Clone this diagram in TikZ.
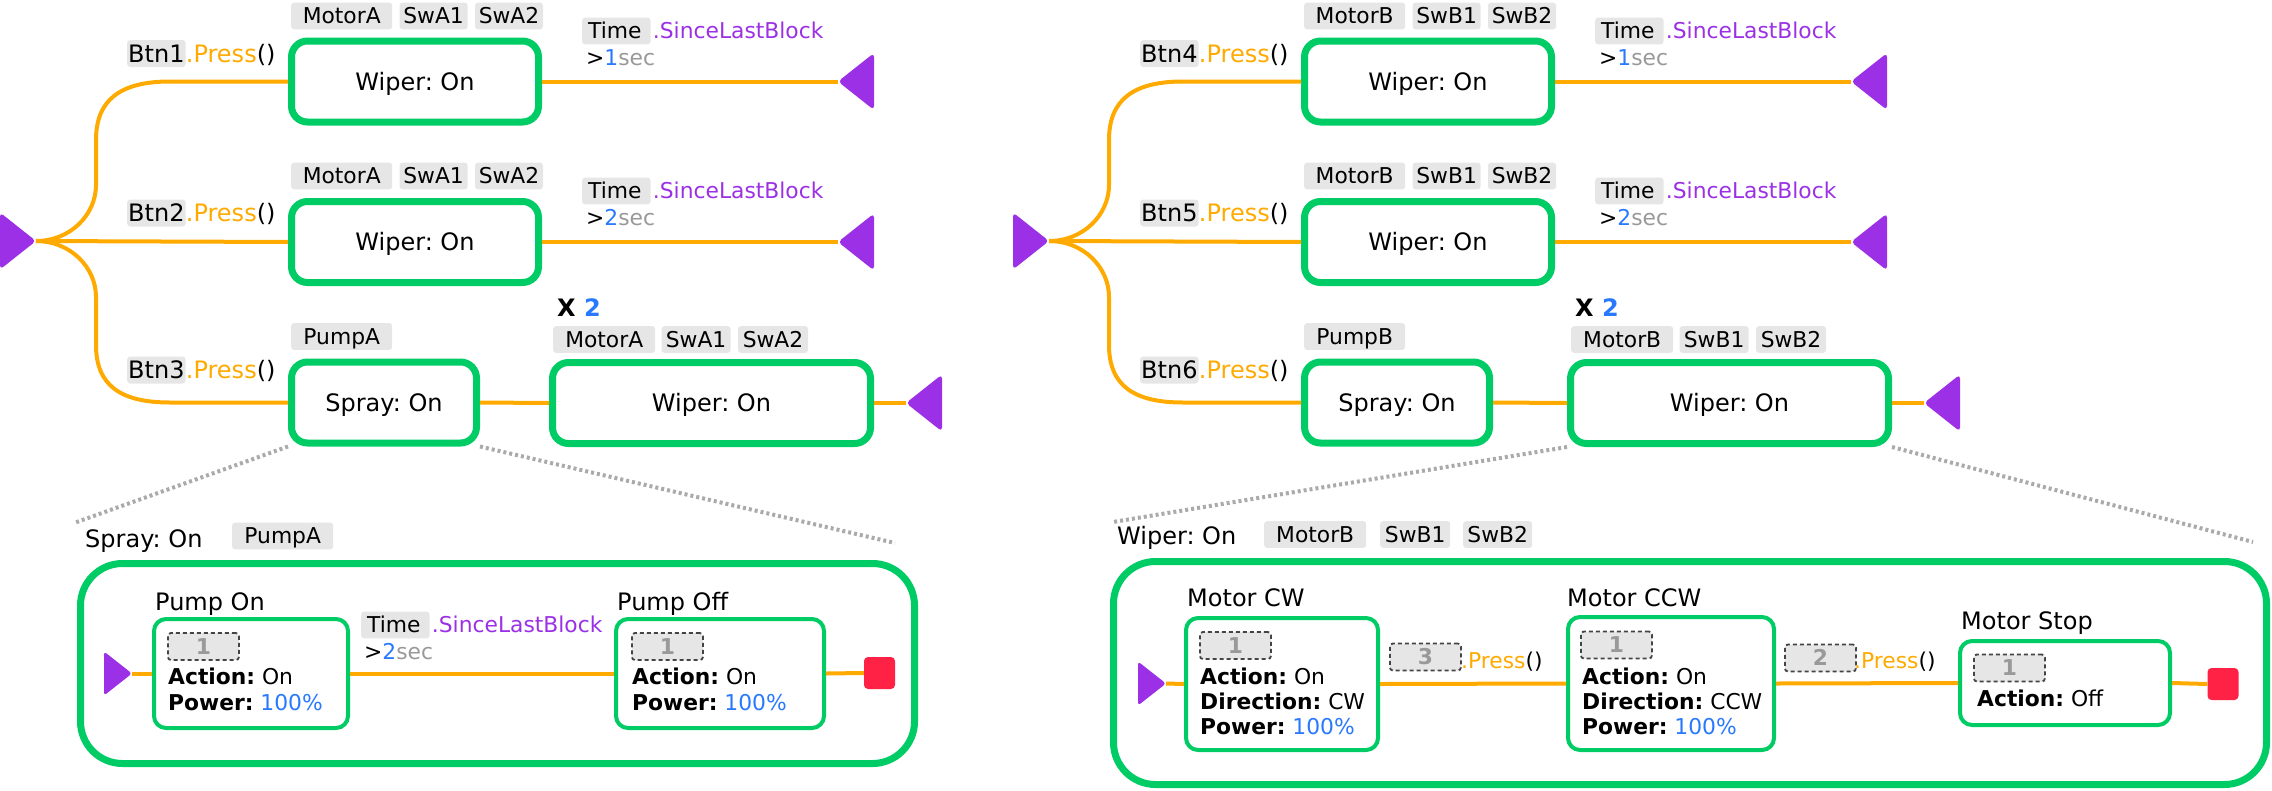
\documentclass[tikz,border=0pt]{standalone}
\usepackage{fontspec}
\setmainfont{DejaVu Sans}
\usetikzlibrary{calc}
\frenchspacing
\definecolor{gr}{HTML}{00CC66}
\definecolor{orn}{HTML}{FFAA00}
\definecolor{pur}{HTML}{9B30E6}
\definecolor{blu}{HTML}{2979FF}
\definecolor{secg}{HTML}{999999}
\definecolor{tagf}{HTML}{E6E6E6}
\definecolor{dotg}{HTML}{AAAAAA}
\definecolor{redsq}{HTML}{FF2244}
\definecolor{dashb}{HTML}{444444}
\newcommand\fm{\fontsize{24}{29}\selectfont\frenchspacing}
\newcommand\fs{\fontsize{21.8}{26}\selectfont\frenchspacing}
\newcommand\timetxt{\null\hspace{6pt}Time\hspace{9pt}\null}
\tikzset{
 bigbox/.style={draw=gr, line width=7pt, rounded corners=16pt, fill=white, font=\fm, text height=17.5pt, text depth=0pt, inner sep=0pt, minimum height=81pt},
 tagn/.style={fill=tagf, rounded corners=3pt, font=\fs, text height=15.9pt, text depth=0pt, inner ysep=5.5pt, inner xsep=0pt},
 btag/.style={fill=tagf, rounded corners=3pt, font=\fm, text height=17.5pt, text depth=0pt, inner ysep=4.75pt, inner xsep=1pt},
 wire/.style={draw=orn, line width=4pt},
 dotl/.style={draw=dotg, line width=4pt, dash pattern=on 3pt off 3pt},
 txt/.style={inner sep=0pt, anchor=base west},
 ibox/.style={draw=gr, line width=4pt, rounded corners=12pt, fill=white, inner sep=0pt},
 expbox/.style={draw=gr, line width=7pt, rounded corners=42pt, inner sep=0pt},
 badge/.style={fill=tagf, draw=dashb, line width=1.8pt, dash pattern=on 4pt off 3pt, rounded corners=3pt, minimum width=71pt, minimum height=27pt, inner sep=0pt, font=\fs\bfseries, text=secg, text height=15.9pt, text depth=0pt},
 stopsq/.style={fill=redsq, rounded corners=4pt, minimum width=31pt, minimum height=32pt, inner sep=0pt},
}
\newcommand\tril[1]{\fill[pur, rounded corners=4pt] (#1) -- ++(36,-28.5) -- ++(0,57) -- cycle;}
\newcommand\trir[1]{\fill[pur, rounded corners=4pt] (#1) -- ++(-36,-28.5) -- ++(0,57) -- cycle;}
\newcommand\trirs[1]{\fill[pur, rounded corners=3pt] (#1) -- ++(-28,-22) -- ++(0,44) -- cycle;}
% #1 motor, #2 switch letter, #3-#5 buttons, #6 pump, #7 extra shift of last wiper
\newcommand\grp[7]{%
 \coordinate (s) at (36,241);
 \node[bigbox, minimum width=247pt] (w1) at (415,81.5) {Wiper: On};
 \node[bigbox, minimum width=247pt] (w2) at (415,242) {Wiper: On};
 \node[bigbox, minimum width=185pt] (sp) at (384,402.5) {Spray: On};
 \node[bigbox, minimum width=318pt] (w3) at (711.5+#7,403) {Wiper: On};
 % tags
 \node[tagn, minimum width=101pt, anchor=west] (m1) at (291,16) {#1};
 \node[tagn, minimum width=68pt, anchor=west] (a1) at ($(m1.east)+(7,0)$) {Sw#21};
 \node[tagn, minimum width=68pt, anchor=west] (b1) at ($(a1.east)+(7,0)$) {Sw#22};
 \node[tagn, minimum width=101pt, anchor=west] (m2) at (291,176) {#1};
 \node[tagn, minimum width=68pt, anchor=west] (a2) at ($(m2.east)+(7,0)$) {Sw#21};
 \node[tagn, minimum width=68pt, anchor=west] (b2) at ($(a2.east)+(7,0)$) {Sw#22};
 \node[tagn, minimum width=101pt, anchor=west] (pm) at (291,336.5) {#6};
 \node[tagn, minimum width=102pt, anchor=west] (m3) at (553+#7,339.5) {#1};
 \node[tagn, minimum width=69pt, anchor=west] (a3) at ($(m3.east)+(6,0)$) {Sw#21};
 \node[tagn, minimum width=70pt, anchor=west] (b3) at ($(a3.east)+(7,0)$) {Sw#22};
 \node[txt, font=\fm\bfseries] (x2) at (557+#7,316) {X \textcolor{blu}{2}};
 % button labels
 \node[btag, anchor=west] (bt1) at (127,53.5) {#3};
 \node[txt, font=\fm] (pr1) at (bt1.base east) {\textcolor{orn}{.Press}()};
 \node[btag, anchor=west] (bt2) at (127,213) {#4};
 \node[txt, font=\fm] (pr2) at (bt2.base east) {\textcolor{orn}{.Press}()};
 \node[btag, anchor=west] (bt3) at (127,370) {#5};
 \node[txt, font=\fm] (pr3) at (bt3.base east) {\textcolor{orn}{.Press}()};
 % time conditions
 \node[tagn, anchor=west] (tm1) at (582,31) {\timetxt};
 \node[txt, font=\fs, text=pur] (sl1) at ($(tm1.base east)+(2,0)$) {.SinceLastBlock};
 \node[txt, font=\fs] (sc1) at (586,65) {>\textcolor{blu}{1}\textcolor{secg}{sec}};
 \node[tagn, anchor=west] (tm2) at (582,191) {\timetxt};
 \node[txt, font=\fs, text=pur] (sl2) at ($(tm2.base east)+(2,0)$) {.SinceLastBlock};
 \node[txt, font=\fs] (sc2) at (586,225.5) {>\textcolor{blu}{2}\textcolor{secg}{sec}};
 % ends
 \coordinate (e1) at (838,81.5);
 \coordinate (e2) at (838,242);
 \coordinate (e3) at (906+#7,403);
 % wires
 \draw[wire] (s) .. controls (70,241) and (96,215) .. (96,185) -- (96,140) .. controls (96,100) and (120,81.5) .. (170,81.5) -- (w1.west);
 \draw[wire] (s) -- (w2.west);
 \draw[wire] (s) .. controls (70,241) and (96,267) .. (96,297) -- (96,345) .. controls (96,385) and (120,402.5) .. (170,402.5) -- (sp.west);
 \draw[wire] (w1.east) -- (e1);
 \draw[wire] (w2.east) -- (e2);
 \draw[wire] (sp.east) -- (w3.west);
 \draw[wire] (w3.east) -- (e3);
 \trir{s}
 \tril{e1}
 \tril{e2}
 \tril{e3}
}
\begin{document}
\begin{tikzpicture}[x=1pt,y=-1pt]
\useasboundingbox (0,0) rectangle (2272,790);
\begin{scope}[name prefix=L-]
 \grp{MotorA}{A}{Btn1}{Btn2}{Btn3}{PumpA}{0}
\end{scope}
\begin{scope}[xshift=1013pt, name prefix=R-]
 \grp{MotorB}{B}{Btn4}{Btn5}{Btn6}{PumpB}{5}
\end{scope}
% zoom lines
\coordinate (dl1) at (74,523);
\coordinate (dl2) at (895,543);
\coordinate (dr1) at (1113,522);
\coordinate (dr2) at (2253,542);
\draw[dotl] (L-sp.south west) -- (dl1);
\draw[dotl] (L-sp.south east) -- (dl2);
\draw[dotl] (R-w3.south west) -- (dr1);
\draw[dotl] (R-w3.south east) -- (dr2);
% ---- left expansion: Spray On
\node[expbox, minimum width=834pt, minimum height=200pt] (xl) at (497.5,663.5) {};
\node[txt, font=\fm] (xlh) at (85,547) {Spray: On};
\node[tagn, minimum width=101pt, anchor=west] (xlt) at (232,536) {PumpA};
\coordinate (xls) at (132,673.5);
\node[ibox, minimum width=194pt, minimum height=109pt] (pon) at (251,673.5) {};
\node[txt, font=\fm] (ponl) at (155,610) {Pump On};
\node[badge, anchor=west] (ponb) at (167,646.5) {1};
\node[txt, font=\fs] (pona) at (168,684) {\textbf{Action:} On};
\node[txt, font=\fs] (ponp) at (168,710) {\textbf{Power:} \textcolor{blu}{100\%}};
\node[ibox, minimum width=208pt, minimum height=109pt] (poff) at (720,673.5) {};
\node[txt, font=\fm] (poffl) at (617,610) {Pump Off};
\node[badge, anchor=west] (poffb) at (631,646.5) {1};
\node[txt, font=\fs] (poffa) at (632,684) {\textbf{Action:} On};
\node[txt, font=\fs] (poffp) at (632,710) {\textbf{Power:} \textcolor{blu}{100\%}};
\node[stopsq] (xle) at (879.5,673) {};
\node[tagn, anchor=west] (xltm) at (361,625) {\timetxt};
\node[txt, font=\fs, text=pur] (xlsl) at ($(xltm.base east)+(2,0)$) {.SinceLastBlock};
\node[txt, font=\fs] (xlsc) at (364,659) {>\textcolor{blu}{2}\textcolor{secg}{sec}};
\draw[wire] (xls) -- (pon.west);
\draw[wire] (pon.east) -- (poff.west);
\draw[wire] (poff.east) -- (xle.west);
\trirs{xls}
% ---- right expansion: Wiper On
\node[expbox, minimum width=1153pt, minimum height=223pt] (xr) at (1690,673) {};
\node[txt, font=\fm] (xrh) at (1117,544) {Wiper: On};
\node[tagn, minimum width=102pt, anchor=west] (xrm) at (1264,534.5) {MotorB};
\node[tagn, minimum width=70pt, anchor=west] (xra) at (1380,534.5) {SwB1};
\node[tagn, minimum width=69pt, anchor=west] (xrb) at (1463,534.5) {SwB2};
\coordinate (xrs) at (1166,683.5);
\node[ibox, minimum width=192pt, minimum height=132pt] (cw) at (1282,684) {};
\node[txt, font=\fm] (cwl) at (1187,606) {Motor CW};
\node[badge, anchor=west] (cwb) at (1199,645.5) {1};
\node[txt, font=\fs] (cwa) at (1200,684) {\textbf{Action:} On};
\node[txt, font=\fs] (cwd) at (1200,709) {\textbf{Direction:} CW};
\node[txt, font=\fs] (cwp) at (1200,734) {\textbf{Power:} \textcolor{blu}{100\%}};
\node[badge, anchor=west] (t3) at (1389,657) {3};
\node[txt, font=\fs] (t3p) at (1461,668) {\textcolor{orn}{.Press}()};
\node[ibox, minimum width=206pt, minimum height=133pt] (ccw) at (1671,683.5) {};
\node[txt, font=\fm] (ccwl) at (1567,606) {Motor CCW};
\node[badge, anchor=west] (ccwb) at (1580,645) {1};
\node[txt, font=\fs] (ccwa) at (1582,684) {\textbf{Action:} On};
\node[txt, font=\fs] (ccwd) at (1582,709) {\textbf{Direction:} CCW};
\node[txt, font=\fs] (ccwp) at (1582,734) {\textbf{Power:} \textcolor{blu}{100\%}};
\node[badge, anchor=west] (t2) at (1784,658) {2};
\node[txt, font=\fs] (t2p) at (1854,668) {\textcolor{orn}{.Press}()};
\node[ibox, minimum width=210pt, minimum height=84pt] (mst) at (2065,683) {};
\node[txt, font=\fm] (mstl) at (1961,629) {Motor Stop};
\node[badge, anchor=west] (mstb) at (1973,668) {1};
\node[txt, font=\fs] (msta) at (1977,706) {\textbf{Action:} Off};
\node[stopsq] (xre) at (2223,684) {};
\draw[wire] (xrs) -- (cw.west);
\draw[wire] (cw.east) -- (ccw.west);
\draw[wire] (ccw.east) -- (mst.west);
\draw[wire] (mst.east) -- (xre.west);
\trirs{xrs}
\end{tikzpicture}
\end{document}
